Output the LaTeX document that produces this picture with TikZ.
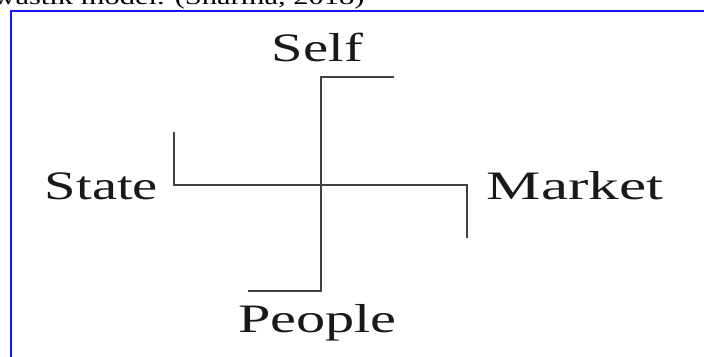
\documentclass[tikz,border=0pt]{standalone}
\usepackage{fontspec}
\setmainfont{Liberation Serif}
\usepackage{xcolor}

\definecolor{framecol}{RGB}{20,20,255}
\definecolor{armcol}{RGB}{65,65,65}

\begin{document}
\begin{tikzpicture}[x=1cm, y=1cm,
    lbl/.style={inner sep=0pt, anchor=base, font=\fontsize{23}{27}\selectfont, text=black!90, xscale=1.4, transform shape},
    captiontext/.style={inner sep=0pt, anchor=base west, font=\fontsize{12.4}{15}\selectfont, xscale=1.4, transform shape},
    arm/.style={armcol, line width=1.15pt, line cap=rect}]
    \useasboundingbox (0,0) rectangle (14.08,7.14);
    \clip (0,0) rectangle (14.08,7.14);
    % Caption, cut off at the top
    \node[captiontext] (caption) at (-0.14,7.05) {wastik model. (Sharma, 2018)};
    % Frame
    \draw[framecol, line width=1.2pt] (14.2,6.92) -- (0.22,6.92) -- (0.22,-0.2);
    % Swastika
    \coordinate (c) at (6.414,3.44);
    \draw[arm] (c) -- ++(0,2.16) -- ++(1.45,0);
    \draw[arm] (c) -- ++(0,-2.12) -- ++(-1.43,0);
    \draw[arm] (c) -- ++(-2.93,0) -- ++(0,1.04);
    \draw[arm] (c) -- ++(2.93,0) -- ++(0,-1.04);
    % Labels
    \node[lbl] (self) at (6.35,5.9) {Self};
    \node[lbl] (state) at (2.03,3.14) {State};
    \node[lbl, xscale=1.08] (market) at (11.5,3.14) {Market};
    \node[lbl, xscale=1.03] (people) at (6.35,0.48) {People};
\end{tikzpicture}
\end{document}
